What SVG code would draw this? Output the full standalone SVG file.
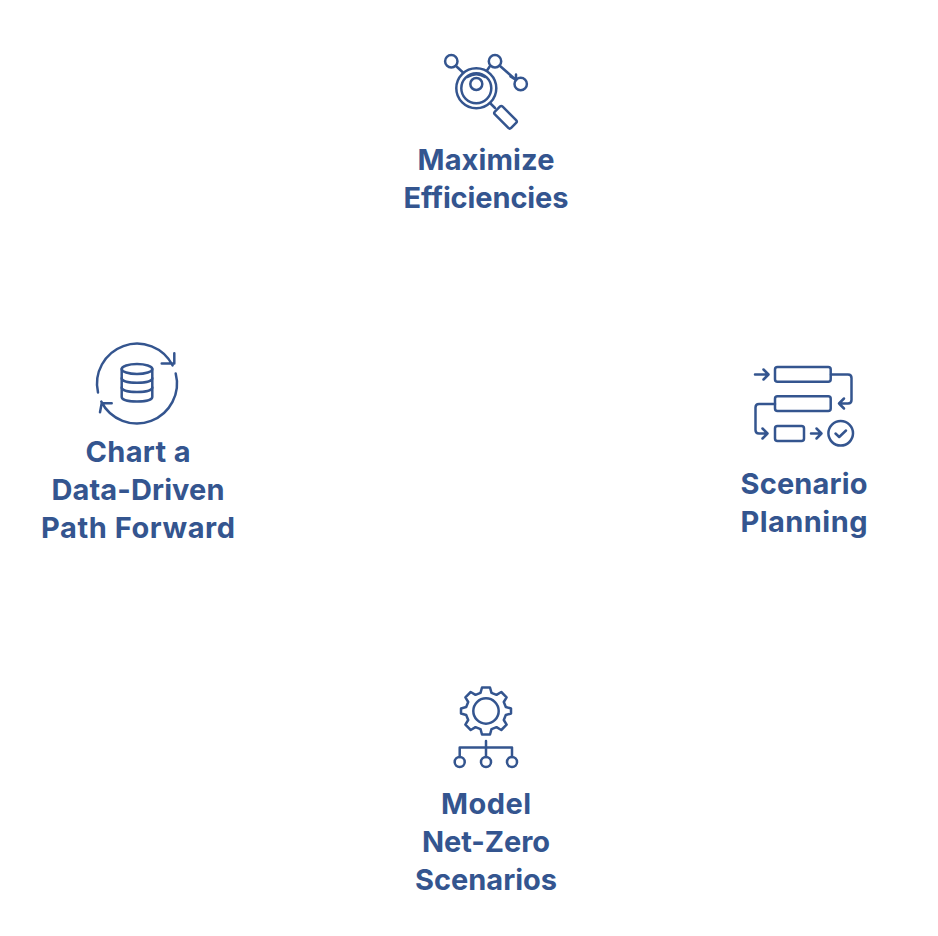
<svg xmlns="http://www.w3.org/2000/svg" width="938" height="936" viewBox="0 0 938 936">
  <style>
    .label { font-family: "Inter", "Liberation Sans", sans-serif; font-weight: 700; font-size: 29px; fill: #34558f; text-anchor: middle; }
    .icon { fill: none; stroke: #34558f; stroke-width: 2.5; stroke-linecap: round; stroke-linejoin: round; }
  </style>
  <rect width="938" height="936" fill="#ffffff"/>

  <g id="maximize-efficiencies">
    <g class="icon">
      <circle cx="451.3" cy="61.3" r="6.2"/>
      <circle cx="495" cy="61.3" r="6.2"/>
      <circle cx="520.7" cy="84" r="6.2"/>
      <circle cx="476.3" cy="88.3" r="20"/>
      <circle cx="476.3" cy="88.3" r="15"/>
      <circle cx="476.3" cy="84" r="6"/>
      <path d="M456 66 L463 72.500 M490 66 L487 70.500 M499.500 65.500 L516 80 M510.500 76.500 L516 80 L516 74.500"/>
      <path d="M467.500 77 Q476.300 71.500 485 77"/>
      <path d="M490 103 L495 108"/>
      <rect x="-11.500" y="-5.500" width="23" height="11" rx="2" transform="translate(505.500 117.300) rotate(45)"/>
    </g>
    <text class="label" x="486" y="169.500" textLength="137" lengthAdjust="spacing">Maximize</text>
    <text class="label" x="486" y="207.500" textLength="165" lengthAdjust="spacing">Efficiencies</text>
  </g>

  <g id="scenario-planning">
    <g class="icon">
      <rect x="775" y="367" width="55.700" height="14.700" rx="2.500"/>
      <rect x="775" y="396.300" width="55.700" height="14.700" rx="2.500"/>
      <rect x="775" y="426" width="29" height="15" rx="2.500"/>
      <circle cx="840.700" cy="433.300" r="12.300"/>
      <path d="M755 374.500 H768 M763.500 369.500 L768.500 374.500 L763.500 379.500"/>
      <path d="M831 374.500 H848 Q851.500 374.500 851.500 378 V400 Q851.500 403.500 848 403.500 H839 M844 398.500 L839 403.500 L844 408.500"/>
      <path d="M775 404 H759 Q755.500 404 755.500 407.500 V430 Q755.500 433.500 759 433.500 H767.500 M762.500 428.500 L767.500 433.500 L762.500 438.500"/>
      <path d="M811 433.500 H821.500 M816.500 428.500 L821.500 433.500 L816.500 438.500"/>
      <path d="M835.500 433.500 L839.200 437 L846 430.500"/>
    </g>
    <text class="label" x="804" y="493.500" textLength="127" lengthAdjust="spacing">Scenario</text>
    <text class="label" x="804" y="531.500" textLength="127" lengthAdjust="spacing">Planning</text>
  </g>

  <g id="model-net-zero-scenarios">
    <g class="icon">
      <circle cx="486" cy="711" r="12.700"/>
      <path d="M482 687.500 H490 L491.500 692.800 L496.500 694.800 L501.300 692 L506.600 697.300 L503.800 702 L505.800 707 L511 708.500 V713.500 L505.800 715 L503.800 720 L506.600 724.700 L501.300 730 L496.500 727.200 L491.500 729.200 L490 734.500 H482 L480.500 729.200 L475.500 727.200 L470.700 730 L465.400 724.700 L468.200 720 L466.200 715 L461 713.500 V708.500 L466.200 707 L468.200 702 L465.400 697.300 L470.700 692 L475.500 694.800 L480.500 692.800 Z"/>
      <path d="M486 741 V757 M459.700 757 V747.500 H512 V757"/>
      <circle cx="459.700" cy="762" r="5"/>
      <circle cx="486" cy="762" r="5"/>
      <circle cx="512" cy="762" r="5"/>
    </g>
    <text class="label" x="486" y="813.500" textLength="90" lengthAdjust="spacing">Model</text>
    <text class="label" x="486" y="851.500" textLength="128" lengthAdjust="spacing">Net-Zero</text>
    <text class="label" x="486" y="889.500" textLength="142" lengthAdjust="spacing">Scenarios</text>
  </g>

  <g id="chart-data-driven-path">
    <g class="icon">
      <path d="M98 392.500 A40 40 0 0 1 172.600 365.400 M161.700 363.500 H174.300 L174.300 353.300"/>
      <path d="M175.700 373.500 A40 40 0 0 1 101.300 401.600 M111.700 403.300 H101.700 L100 412.300"/>
      <ellipse cx="137" cy="369" rx="15.300" ry="5"/>
      <path d="M121.700 369 V397 C121.700 403 152.300 403 152.300 397 V369"/>
      <path d="M121.700 378.300 C121.700 384.300 152.300 384.300 152.300 378.300 M121.700 387.600 C121.700 393.600 152.300 393.600 152.300 387.600"/>
    </g>
    <text class="label" x="138" y="461.500" textLength="105" lengthAdjust="spacing">Chart a</text>
    <text class="label" x="138" y="499.500" textLength="173" lengthAdjust="spacing">Data-Driven</text>
    <text class="label" x="138" y="537.500" textLength="194" lengthAdjust="spacing">Path Forward</text>
  </g>

  <g id="connectors"></g>
</svg>
